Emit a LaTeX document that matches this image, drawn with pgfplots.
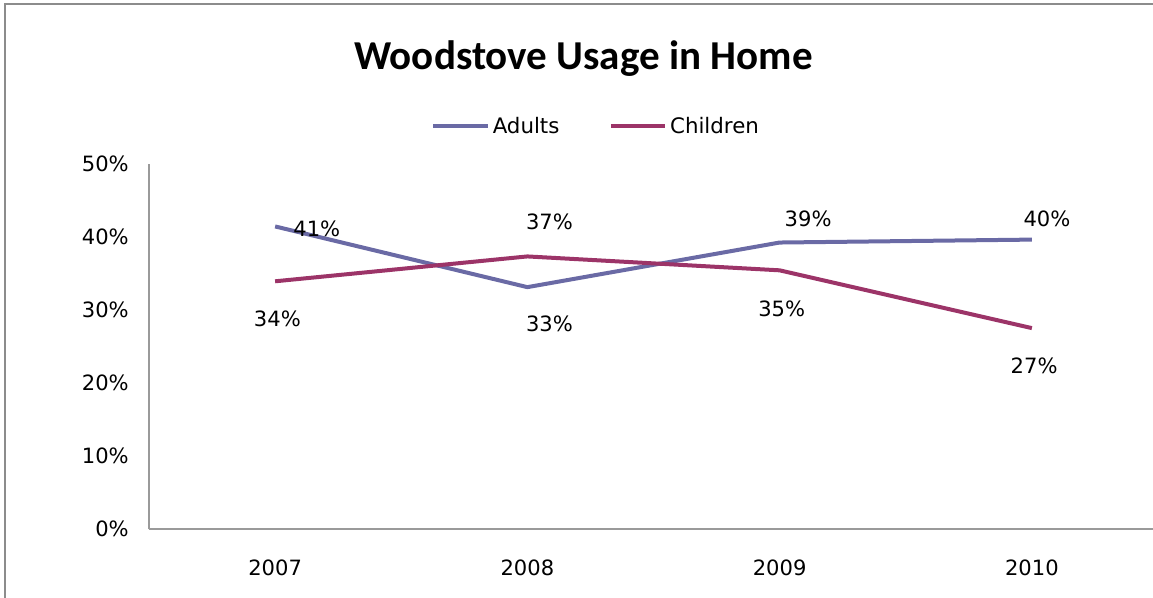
\documentclass[border=0pt]{standalone}
\usepackage{fontspec}
\setmainfont{DejaVu Sans}
\newfontfamily\titlefont{Carlito}
\usepackage{pgfplots}
\pgfplotsset{compat=1.18}
\definecolor{adultc}{HTML}{6A6AA5}
\definecolor{childc}{HTML}{9C3468}
\definecolor{framec}{HTML}{8C8C8C}
\definecolor{axisc}{HTML}{9A9A9A}
\begin{document}
\begin{tikzpicture}
\useasboundingbox (0,0) rectangle (864.75pt,447.75pt);
\draw[framec, line width=1.5pt] (3.75pt,-5pt) -- (3.75pt,444.75pt) -- (870pt,444.75pt);
\node[font=\titlefont\bfseries\fontsize{30.8}{36}\selectfont, anchor=base, inner sep=0pt] at (437.6pt,395.3pt) {Woodstove Usage in Home};
\begin{axis}[
 at={(111.75pt,50.8pt)}, anchor=south west,
 scale only axis, width=756.75pt, height=274.3pt,
 xmin=-0.5, xmax=3.5, ymin=0, ymax=50,
 axis x line=bottom, axis y line=left,
 axis line style={-, draw=axisc, line width=1.5pt},
 xtick={0,1,2,3}, xticklabels={2007,2008,2009,2010},
 ytick={0,10,...,50}, yticklabels={0\%,10\%,20\%,30\%,40\%,50\%},
 major tick length=0pt,
 tick label style={font=\fontsize{15.8}{18}\selectfont},
 xticklabel style={anchor=north, inner sep=0pt, yshift=-23pt},
 yticklabel style={anchor=east, inner sep=0pt, xshift=-15pt},
 clip=false,
 point meta=explicit,
 nodes near coords={\pgfmathprintnumber[fixed,precision=0,assume math mode=true]{\pgfplotspointmeta}\%},
 visualization depends on={\thisrow{dx}\as\dx},
 visualization depends on={\thisrow{dy}\as\dy},
 every node near coord/.append style={font=\fontsize{15.8}{18}\selectfont, anchor=center, inner sep=0pt, xshift=\dx pt, yshift=\dy pt, text=black},
 legend columns=2,
 legend style={at={(0.4435,1.1025)}, anchor=center, draw=none, fill=none, font=\fontsize{16}{18}\selectfont, /tikz/every even column/.append style={column sep=35pt}},
 legend image code/.code={\draw[#1, line width=3pt] (0pt,0pt) -- (41pt,0pt);},
]
\addplot[adultc, line width=3pt, mark=none] table[x=x,y=y,meta=lab] {
x y lab dx dy
0 41.4 41 31.3 -1.7
1 33.1 33 16.6 -27.3
2 39.2 39 21.4 18.1
3 39.6 40 11.3 15.6
};
\addlegendentry{Adults}
\addplot[childc, line width=3pt, mark=none] table[x=x,y=y,meta=lab] {
x y lab dx dy
0 33.9 34 1.7 -28.1
1 37.3 37 16.6 25.7
2 35.4 35 1.6 -28.9
3 27.5 27 1.7 -28.1
};
\addlegendentry{Children}
\end{axis}
\end{tikzpicture}
\end{document}
